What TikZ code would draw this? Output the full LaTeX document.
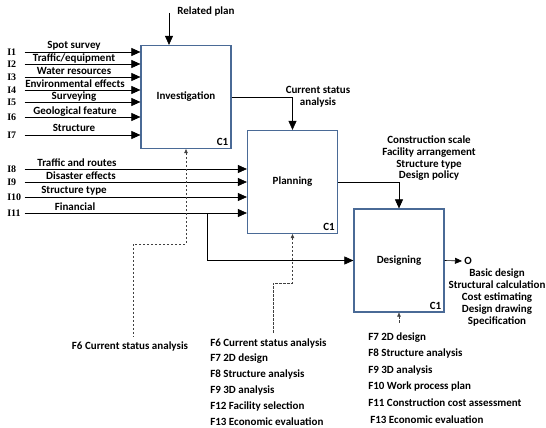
\documentclass[tikz,border=0pt]{standalone}
\usepackage{fontspec}
\setmainfont{Carlito}
\newfontfamily\inputfont{Liberation Serif}
\usepackage{xcolor}
\usetikzlibrary{positioning}
\usetikzlibrary{arrows.meta}
\usetikzlibrary{math}
\usetikzlibrary{calc}

\definecolor{boxblue}{RGB}{74,106,150}

\begin{document}
\begin{tikzpicture}[x=1pt,y=-1pt,line width=0.6pt,
    func/.style={draw=boxblue, line width=1.2pt, minimum width=\boxw pt,
      minimum height=\boxh pt, inner sep=0pt, font=\bfseries\fontsize{11}{12}\selectfont},
    ctrl/.style={anchor=south east, inner sep=3pt, font=\bfseries\fontsize{11}{12}\selectfont},
    lab/.style={inner sep=0pt, align=center, font=\bfseries\fontsize{11}{11.7}\selectfont},
    inlab/.style={anchor=west, inner sep=0pt, text width=17pt, align=left,
      font=\inputfont\bfseries\fontsize{10}{12}\selectfont},
    arr/.style={-{Triangle[length=9pt,width=8pt]}},
    darr/.style={{Triangle[length=4pt,width=3.5pt]}-, draw=black!75,
      dash pattern=on 2.5pt off 1.5pt, line width=0.5pt}]

  \tikzmath{
    \boxw = 90;   % width of the activity boxes
    \boxh = 103;  % height of the activity boxes
  }

  \useasboundingbox (0,0) rectangle (546,428);

  % activity boxes
  \node[func] (inv)  at (186,97)    {Investigation};
  \node[func] (plan) at (292.5,182) {Planning};
  \node[func] (des)  at (399,260.5) {Designing};
  \node[ctrl] (invc)  at (inv.south east)  {C1};
  \node[ctrl] (planc) at (plan.south east) {C1};
  \node[ctrl] (desc)  at (des.south east)  {C1};

  % control on top
  \coordinate (rpin) at (169,13);
  \node[lab, anchor=west] (rp) at (177,12) {Related plan};
  \draw[arr] (rpin) -- (rpin |- inv.north);

  % inputs of investigation
  \node[inlab] (i1) at (7,52)  {I1};
  \node[inlab] (i2) at (7,64)  {I2};
  \node[inlab] (i3) at (7,77)  {I3};
  \node[inlab] (i4) at (7,90)  {I4};
  \node[inlab] (i5) at (7,102) {I5};
  \node[inlab] (i6) at (7,117) {I6};
  \node[inlab] (i7) at (7,135) {I7};
  \draw[arr] (i1.east) -- (i1.east -| inv.west);
  \draw[arr] (i2.east) -- (i2.east -| inv.west);
  \draw[arr] (i3.east) -- (i3.east -| inv.west);
  \draw[arr] (i4.east) -- (i4.east -| inv.west);
  \draw[arr] (i5.east) -- (i5.east -| inv.west);
  \draw[arr] (i6.east) -- (i6.east -| inv.west);
  \draw[arr] (i7.east) -- (i7.east -| inv.west);
  \node[lab] (t1) at (74,46)  {Spot survey};
  \node[lab] (t2) at (74,58)  {Traffic/equipment};
  \node[lab] (t3) at (74,71)  {Water resources};
  \node[lab] (t4) at (75,84)  {Environmental effects};
  \node[lab] (t5) at (74,97)  {Surveying};
  \node[lab] (t6) at (75,112) {Geological feature};
  \node[lab] (t7) at (74,128) {Structure};

  % inputs of planning
  \node[inlab] (i8)  at (7,169) {I8};
  \node[inlab] (i9)  at (7,182) {I9};
  \node[inlab] (i10) at (7,197) {I10};
  \node[inlab] (i11) at (7,213) {I11};
  \draw[arr] (i8.east)  -- (i8.east -| plan.west);
  \draw[arr] (i9.east)  -- (i9.east -| plan.west);
  \draw[arr] (i10.east) -- (i10.east -| plan.west);
  \draw[arr] (i11.east) -- (i11.east -| plan.west);
  \node[lab] (t8)  at (77,163) {Traffic and routes};
  \node[lab] (t9)  at (81,176) {Disaster effects};
  \node[lab] (t10) at (74,191) {Structure type};
  \node[lab] (t11) at (75,207) {Financial};

  % financial goes on to designing
  \coordinate (fb) at (207,213);
  \draw[arr] (fb) |- (des.west);

  % outputs
  \draw[arr] (inv.east) -| (plan.north);
  \node[lab] (csa) at (318,97) {Current status\\analysis};
  \draw[arr] (plan.east) -| (des.north);
  \node[lab] (pout) at (429,158.5) {Construction scale\\Facility arrangement\\Structure type\\Design policy};
  \node[lab, anchor=west, inner sep=2pt] (out) at (462,261) {O};
  \draw[-{Triangle[length=7pt,width=6pt]}] (des.east) -- (out.west);
  \node[lab, font=\bfseries\fontsize{11}{12}\selectfont] (dout) at (497,298) {Basic design\\Structural calculation\\Cost estimating\\Design drawing\\Specification};

  % mechanisms
  \node[lab] (m1) at (130,347) {F6 Current status analysis};
  \coordinate (k1) at (133,244);
  \draw[darr] (inv.south) |- (k1) -- ([yshift=5pt]k1 |- m1.north);

  \node[lab, anchor=north west, align=left, font=\bfseries\fontsize{11}{15.8}\selectfont] (m2) at (210,338)
    {F6 Current status analysis\\F7 2D design\\F8 Structure analysis\\F9 3D analysis\\F12 Facility selection\\F13 Economic evaluation};
  \coordinate (k2) at (273,283);
  \draw[darr] (plan.south) |- (k2) -- ([yshift=5pt]k2 |- m2.north);

  \node[lab, anchor=north west, align=left, font=\bfseries\fontsize{11}{16.6}\selectfont] (m3) at (368,332)
    {F7 2D design\\F8 Structure analysis\\F9 3D analysis\\F10 Work process plan\\F11 Construction cost assessment\\\hspace{2pt}F13 Economic evaluation};
  \draw[darr] (des.south) -- ([yshift=8pt]des.south |- m3.north);

\end{tikzpicture}
\end{document}
